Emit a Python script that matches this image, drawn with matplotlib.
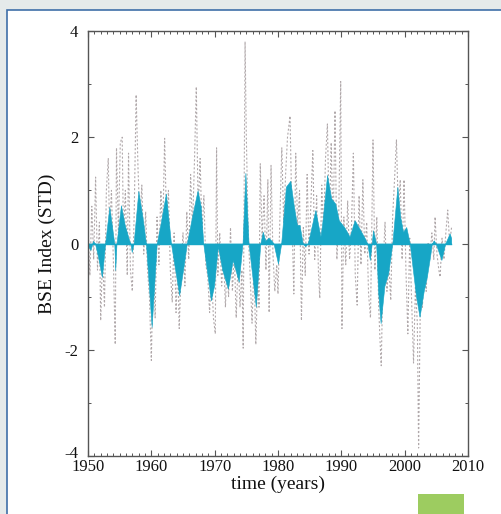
import numpy as np
import matplotlib.pyplot as plt
import matplotlib.transforms as mtransforms
from matplotlib.patches import Rectangle
from matplotlib.ticker import MultipleLocator

# smoothed BSE index (filled area)
smooth_years = [1950.0, 1950.4, 1950.8, 1951.1, 1951.5, 1952.2, 1952.7, 1953.37, 1954.15,
                1954.3, 1954.5, 1955.2, 1955.8, 1956.5, 1956.7, 1956.9, 1957.2, 1957.95,
                1958.6, 1959.15, 1960.05, 1960.85, 1961.5, 1962.3, 1963.1, 1964.4, 1965.0,
                1965.6, 1966.5, 1967.3, 1967.8, 1968.2, 1969.4, 1969.9, 1970.5, 1971.2,
                1972.1, 1972.85, 1973.8, 1974.4, 1974.85, 1975.35, 1976.5, 1977.2, 1977.6,
                1978.0, 1978.5, 1979.0, 1979.3, 1980.0, 1980.5, 1981.25, 1981.95, 1982.5,
                1983.0, 1983.4, 1983.9, 1984.3, 1984.7, 1985.9, 1986.7, 1987.0, 1987.75,
                1988.4, 1989.05, 1989.6, 1990.5, 1991.3, 1992.1, 1993.0, 1993.7, 1994.1,
                1994.5, 1994.8, 1995.0, 1995.5, 1995.8, 1996.2, 1996.8, 1997.4, 1998.05,
                1998.85, 1999.3, 1999.75, 2000.25, 2000.8, 2001.3, 2001.8, 2002.35, 2003.0,
                2003.5, 2004.0, 2004.3, 2004.6, 2004.9, 2005.8, 2006.4, 2007.1, 2007.35]
smooth_values = [-0.05, -0.12, 0.05, 0.0, -0.2, -0.63, 0.0, 0.69, 0.0,
                 -0.5, 0.0, 0.72, 0.35, 0.06, 0.0, -0.16, 0.0, 0.99,
                 0.5, 0.0, -1.57, 0.0, 0.4, 0.94, 0.0, -0.97, -0.5,
                 0.0, 0.55, 1.0, 0.7, 0.0, -1.07, -0.8, -0.05, -0.5,
                 -0.85, -0.31, -0.72, 0.0, 1.33, 0.0, -1.19, 0.0, 0.22,
                 0.05, 0.11, 0.05, 0.0, -0.38, 0.0, 1.07, 1.18, 0.7,
                 0.35, 0.35, 0.0, -0.05, 0.0, 0.63, 0.13, 0.4, 1.29,
                 0.85, 0.75, 0.44, 0.3, 0.13, 0.44, 0.25, 0.1, 0.0,
                 -0.31, 0.0, 0.25, 0.0, -0.9, -1.5, -0.8, -0.56, 0.0,
                 1.07, 0.5, 0.22, 0.31, 0.0, -0.5, -1.0, -1.38, -0.9,
                 -0.63, -0.25, 0.0, 0.06, 0.0, -0.31, 0.0, 0.19, 0.1]

# monthly index (dashed line), main spikes
raw_years = [1950.0, 1950.3, 1950.6, 1950.9, 1951.2, 1951.5, 1951.8, 1952.0, 1952.3, 1952.6,
             1952.9, 1953.2, 1953.4, 1953.7, 1954.0, 1954.3, 1954.5, 1954.8, 1955.1, 1955.4,
             1955.6, 1955.9, 1956.2, 1956.4, 1956.7, 1957.0, 1957.3, 1957.6, 1957.9, 1958.2,
             1958.5, 1958.8, 1959.1, 1959.4, 1959.7, 1960.0, 1960.3, 1960.6, 1960.9, 1961.2,
             1961.5, 1961.8, 1962.1, 1962.4, 1962.7, 1963.0, 1963.3, 1963.6, 1963.9, 1964.2,
             1964.4, 1964.7, 1965.0, 1965.3, 1965.6, 1965.9, 1966.2, 1966.5, 1966.8, 1967.1,
             1967.4, 1967.7, 1968.0, 1968.3, 1968.6, 1968.9, 1969.2, 1969.5, 1969.8, 1970.1,
             1970.3, 1970.5, 1970.8, 1971.1, 1971.4, 1971.7, 1971.9, 1972.2, 1972.5, 1972.8,
             1973.1, 1973.4, 1973.7, 1974.0, 1974.3, 1974.5, 1974.8, 1975.0, 1975.3, 1975.6,
             1975.9, 1976.2, 1976.5, 1976.8, 1977.0, 1977.2, 1977.5, 1977.8, 1978.1, 1978.4,
             1978.6, 1978.9, 1979.2, 1979.5, 1979.8, 1980.0, 1980.3, 1980.6, 1980.9, 1981.2,
             1981.5, 1981.9, 1982.2, 1982.5, 1982.8, 1983.1, 1983.4, 1983.7, 1984.0, 1984.3,
             1984.6, 1984.9, 1985.2, 1985.5, 1985.8, 1986.1, 1986.4, 1986.6, 1986.9, 1987.2,
             1987.5, 1987.8, 1988.1, 1988.4, 1988.7, 1989.0, 1989.3, 1989.6, 1989.9, 1990.1,
             1990.4, 1990.7, 1991.0, 1991.3, 1991.6, 1991.9, 1992.2, 1992.5, 1992.8, 1993.1,
             1993.4, 1993.7, 1994.0, 1994.3, 1994.6, 1994.8, 1995.0, 1995.3, 1995.6, 1995.9,
             1996.1, 1996.3, 1996.6, 1996.9, 1997.2, 1997.5, 1997.8, 1998.1, 1998.4, 1998.7,
             1999.0, 1999.3, 1999.6, 1999.9, 2000.2, 2000.5, 2000.8, 2001.1, 2001.4, 2001.7,
             2002.0, 2002.2, 2002.5, 2002.8, 2003.1, 2003.4, 2003.7, 2004.0, 2004.3, 2004.6,
             2004.8, 2005.1, 2005.4, 2005.6, 2005.9, 2006.2, 2006.5, 2006.8, 2007.1, 2007.4]
raw_values = [0.3, -0.6, 0.7, -0.3, 1.25, -0.5, 0.4, -1.45, -0.2, -1.2,
              1.0, 1.6, 0.2, 1.0, -0.3, -1.9, 1.8, 0.2, 1.9, 2.0,
              0.1, 1.0, -0.6, 1.7, -0.5, -0.9, 0.6, 2.8, 1.4, 0.4,
              1.1, -0.2, 0.6, -0.5, -1.0, -2.2, -0.3, -1.4, 0.5, -0.4,
              1.0, 0.2, 1.98, 0.4, 1.0, -0.5, -1.1, 0.2, -1.3, -0.4,
              -1.6, -0.5, 0.2, -0.8, 0.6, -0.3, 1.3, 0.3, 1.5, 2.95,
              0.6, 1.6, 0.2, 0.9, -0.4, -0.6, -1.3, -0.5, -1.4, -1.7,
              1.8, -0.6, 0.2, -0.8, -0.2, -1.2, -0.5, -1.0, 0.3, -0.9,
              -0.2, -1.4, -0.3, -1.2, -0.5, -1.97, 3.8, 2.0, 0.2, -0.6,
              -1.5, -0.4, -1.9, -0.6, -1.2, 1.5, 0.1, 0.9, -0.5, 1.2,
              -1.3, 1.47, -0.2, -0.9, -0.4, -0.95, 0.5, 1.8, 0.4, 1.3,
              2.0, 2.4, 0.5, -0.95, 1.7, 0.3, 1.0, -1.45, 0.3, -0.6,
              1.3, -0.2, 0.8, 1.75, -0.3, 0.9, -0.6, -1.03, 1.1, 0.2,
              1.6, 2.25, 0.3, 1.9, 0.2, 2.5, -0.3, 0.6, 3.05, -1.6,
              0.5, -0.4, 0.8, -0.3, 0.3, 1.7, -0.6, -1.16, 0.9, -0.4,
              1.2, -0.2, 0.4, -0.95, -1.4, 0.2, 1.95, -0.5, 0.5, -1.2,
              -1.8, -2.3, -0.4, 0.4, -0.9, -0.4, -1.07, 0.5, 1.2, 1.95,
              0.6, 1.2, -0.3, 1.2, -0.5, -1.7, 0.1, -1.1, -2.25, -0.8,
              -1.5, -3.85, -0.8, -1.2, -0.4, -0.9, 0.0, -0.2, 0.2, -0.3,
              0.5, -0.2, -0.5, -0.63, 0.1, -0.3, 0.2, 0.63, 0.0, 0.3]

plt.rcParams['font.family'] = ['Liberation Serif', 'DejaVu Serif']
plt.rcParams['axes.unicode_minus'] = False

fig = plt.figure(figsize=(5.01, 5.14), dpi=100, facecolor='#e5eaea')
# white panel with blue frame, behind the axes
fig.patches.append(Rectangle((7 / 501, -0.01), 1.0, 1.01 - 10 / 514, transform=fig.transFigure,
                             facecolor='white', edgecolor='#3f6fa8', linewidth=1.2,
                             zorder=-10))
fig.patches.append(Rectangle((418 / 501, 0), 46 / 501, 20 / 514, transform=fig.transFigure,
                             facecolor='#9dcc60', edgecolor='none', zorder=-5))

ax = fig.add_axes([88 / 501, 58 / 514, 380 / 501, 425 / 514])
ax.set_facecolor('none')

ax.plot(raw_years, raw_values, color='#b0a8aa', linewidth=0.8,
        linestyle=(0, (1.8, 1.8)), zorder=1)
sy = np.array(smooth_years)
sv = np.array(smooth_values)
ax.fill_between(sy, sv, 0, color='#17a6c6', linewidth=0.4, edgecolor='#17a6c6',
                interpolate=True, zorder=2)
ax.axhline(0, color='#17a6c6', linewidth=1.0, xmin=0, xmax=(2007.35 - 1950) / 60, zorder=2)

ax.set_xlim(1950, 2010)
ax.set_ylim(-4, 4)
ax.xaxis.set_major_locator(MultipleLocator(10))
ax.xaxis.set_minor_locator(MultipleLocator(1))
ax.yaxis.set_major_locator(MultipleLocator(2))
ax.yaxis.set_minor_locator(MultipleLocator(1))
ax.tick_params(which='both', direction='in', top=True, right=True, colors='#555555',
               labelcolor='#111111', labelsize=12)
ax.tick_params(which='major', length=4, width=0.8)
ax.tick_params(which='minor', length=2, width=0.7)
ax.tick_params(axis='x', pad=2)
ax.tick_params(axis='y', pad=7)
for s in ax.spines.values():
    s.set_color('#555555')
    s.set_linewidth(1.0)

# lift the bottom y label a little so it clears "1950"
fig.canvas.draw()
lift = mtransforms.ScaledTranslation(0, 4 / 100, fig.dpi_scale_trans)
for lbl in ax.get_yticklabels():
    if lbl.get_text() == '-4':
        lbl.set_transform(lbl.get_transform() + lift)

ax.set_xlabel('time (years)', fontsize=14, color='#111111', labelpad=1)
ax.set_ylabel('BSE Index (STD)', fontsize=14, color='#111111', labelpad=6)

fig.savefig('out.png', dpi=100, facecolor=fig.get_facecolor())
